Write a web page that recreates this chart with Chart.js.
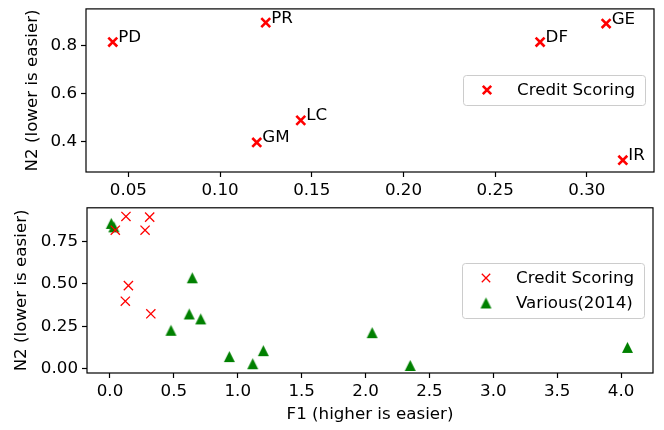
<!DOCTYPE html>
<html>
<head>
<meta charset="utf-8">
<script src="https://cdn.jsdelivr.net/npm/chart.js@4.4.1/dist/chart.umd.min.js"></script>
<style>
  body { margin: 0; background: #fff; }
  #wrap { position: relative; width: 664px; height: 430px; }
  #wrap canvas { position: absolute; left: 0; }
</style>
</head>
<body>
<div id="wrap">
  <canvas id="topChart" width="664" height="200" style="top:0"></canvas>
  <canvas id="bottomChart" width="664" height="230" style="top:200px"></canvas>
</div>
<script>
// Credit scoring datasets (F1 vs N2)
const creditNames = ['PD', 'PR', 'GM', 'LC', 'DF', 'GE', 'IR'];
const creditF1 = [0.0415, 0.1249, 0.120, 0.144, 0.2745, 0.3105, 0.3196];
const creditN2 = [0.815, 0.896, 0.397, 0.489, 0.815, 0.892, 0.323];

// Various(2014) datasets
const variousF1 = [0.010, 0.030, 0.477, 0.620, 0.644, 0.710, 0.934, 1.117, 1.200, 2.052, 2.350, 4.050];
const variousN2 = [0.855, 0.835, 0.226, 0.322, 0.535, 0.293, 0.071, 0.029, 0.106, 0.212, 0.019, 0.125];

// tick labels
const topXTicks = [0.05, 0.10, 0.15, 0.20, 0.25, 0.30];
const topYTicks = [0.4, 0.6, 0.8];
const bottomXTicks = [0.0, 0.5, 1.0, 1.5, 2.0, 2.5, 3.0, 3.5, 4.0];
const bottomYTicks = [0.00, 0.25, 0.50, 0.75];

const yTitle = 'N2 (lower is easier)';
const xTitle = 'F1 (higher is easier)';
const creditLabel = 'Credit Scoring';
const variousLabel = 'Various(2014)';

const RED = '#ff0000';
const GREEN = '#008000';
const FONT = 'DejaVu Sans';
const FS = 16.7;

Chart.defaults.font.family = FONT;
Chart.defaults.font.size = FS;
Chart.defaults.color = '#000';

const toPoints = (xs, ys) => xs.map((x, i) => ({ x: x, y: ys[i] }));

// matplotlib style '^' marker
function triangleImage(size, color) {
    const c = document.createElement('canvas');
    c.width = c.height = size + 2;
    const g = c.getContext('2d');
    const h = size / 2, m = (size + 2) / 2;
    g.fillStyle = color;
    g.beginPath();
    g.moveTo(m, m - h);
    g.lineTo(m + h, m + h);
    g.lineTo(m - h, m + h);
    g.closePath();
    g.fill();
    return c;
}
const tri = triangleImage(11, GREEN);

function axisOpts(ticks, digits, min, max, fitSize, horizontal, title) {
    return {
        type: 'linear',
        min: min,
        max: max,
        afterBuildTicks: s => { s.ticks = ticks.map(v => ({ value: v })); },
        afterFit: s => {
            if (horizontal) s.height = fitSize; else s.width = fitSize;
            // no extra room for the outer labels, plot area is fixed by layout padding
            s.paddingTop = s.paddingBottom = s.paddingLeft = s.paddingRight = 0;
        },
        ticks: {
            padding: 4,
            maxRotation: 0,
            autoSkip: false,
            color: '#000',
            font: { size: FS },
            callback: v => Number(v).toFixed(digits)
        },
        grid: {
            drawOnChartArea: false,
            drawTicks: true,
            tickLength: 5,
            tickWidth: 1.2,
            tickColor: '#000'
        },
        border: { display: false },
        title: title
    };
}

// frame around the plot area, like matplotlib spines
const framePlugin = {
    id: 'frame',
    afterDatasetsDraw(chart) {
        const a = chart.chartArea, g = chart.ctx;
        g.save();
        g.strokeStyle = '#000';
        g.lineWidth = 1.2;
        g.strokeRect(a.left, a.top, a.right - a.left, a.bottom - a.top);
        g.restore();
    }
};

// names next to the credit scoring points
const namesPlugin = {
    id: 'names',
    afterDatasetsDraw(chart) {
        const g = chart.ctx, xs = chart.scales.x, ys = chart.scales.y;
        g.save();
        g.font = FS + 'px "' + FONT + '"';
        g.fillStyle = '#000';
        g.textBaseline = 'alphabetic';
        creditNames.forEach((n, i) => {
            const px = xs.getPixelForValue(creditF1[i]);
            const py = ys.getPixelForValue(creditN2[i]);
            g.fillText(n, px + 5.5, py);
        });
        g.restore();
    }
};

// legend box at center right, drawn like matplotlib
function drawCross(g, x, y, r, w) {
    g.save();
    g.strokeStyle = RED;
    g.lineWidth = w;
    g.beginPath();
    g.moveTo(x - r, y - r); g.lineTo(x + r, y + r);
    g.moveTo(x - r, y + r); g.lineTo(x + r, y - r);
    g.stroke();
    g.restore();
}
const legendPlugin = {
    id: 'boxLegend',
    afterDraw(chart, args, opts) {
        const a = chart.chartArea, g = chart.ctx;
        const entries = opts.entries;
        const w = 182, rowH = 25, h = 5 + entries.length * rowH;
        const right = a.right - 9;
        const left = right - w;
        const top = Math.round((a.top + a.bottom) / 2 - h / 2);
        g.save();
        g.fillStyle = 'rgba(255,255,255,0.8)';
        g.strokeStyle = '#cccccc';
        g.lineWidth = 1;
        g.beginPath();
        g.roundRect(left + 0.5, top + 0.5, w, h, 3);
        g.fill();
        g.stroke();
        g.font = FS + 'px "' + FONT + '"';
        g.fillStyle = '#000';
        g.textBaseline = 'middle';
        entries.forEach((e, i) => {
            const cy = top + 15 + i * rowH;
            if (e.kind === 'cross') drawCross(g, left + 24, cy, 4.2, e.width);
            else g.drawImage(tri, left + 24 - tri.width / 2, cy - tri.height / 2);
            g.fillStyle = '#000';
            g.fillText(e.label, left + 54, cy + 1);
        });
        g.restore();
    }
};

new Chart(document.getElementById('topChart'), {
    type: 'scatter',
    data: {
        datasets: [{
            label: creditLabel,
            data: toPoints(creditF1, creditN2),
            pointStyle: 'crossRot',
            pointRadius: 6.3,
            borderColor: RED,
            backgroundColor: RED,
            borderWidth: 2.6
        }]
    },
    options: {
        responsive: false,
        animation: false,
        events: [],
        layout: { padding: { top: 5, right: 10, left: 0, bottom: 0 } },
        scales: {
            x: axisOpts(topXTicks, 2, 0.0269, 0.3366, 28, true, { display: false }),
            y: axisOpts(topYTicks, 1, 0.274, 0.953, 86, false,
                { display: true, text: yTitle, font: { size: FS }, padding: { top: 23 } })
        },
        plugins: {
            legend: { display: false },
            tooltip: { enabled: false },
            boxLegend: { entries: [{ kind: 'cross', label: creditLabel, width: 2.6 }] }
        }
    },
    plugins: [namesPlugin, framePlugin, legendPlugin]
});

new Chart(document.getElementById('bottomChart'), {
    type: 'scatter',
    data: {
        datasets: [{
            label: creditLabel,
            data: toPoints(creditF1, creditN2),
            pointStyle: 'crossRot',
            pointRadius: 6.5,
            borderColor: RED,
            backgroundColor: RED,
            borderWidth: 1.3
        }, {
            label: variousLabel,
            data: toPoints(variousF1, variousN2),
            pointStyle: tri,
            pointRadius: 6,
            borderColor: GREEN,
            backgroundColor: GREEN
        }]
    },
    options: {
        responsive: false,
        animation: false,
        events: [],
        layout: { padding: { top: 5, right: 11, left: 0, bottom: 0 } },
        scales: {
            x: axisOpts(bottomXTicks, 1, -0.18, 4.25, 57, true,
                { display: true, text: xTitle, font: { size: FS }, padding: { bottom: 5 } }),
            y: axisOpts(bottomYTicks, 2, -0.0255, 0.947, 87, false,
                { display: true, text: yTitle, font: { size: FS }, padding: { top: 12 } })
        },
        plugins: {
            legend: { display: false },
            tooltip: { enabled: false },
            boxLegend: { entries: [
                { kind: 'cross', label: creditLabel, width: 1.3 },
                { kind: 'tri', label: variousLabel }
            ] }
        }
    },
    plugins: [framePlugin, legendPlugin]
});
</script>
</body>
</html>
